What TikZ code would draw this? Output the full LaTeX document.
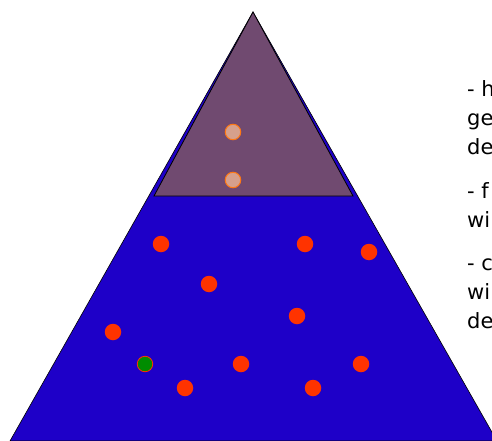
\documentclass[tikz,border=0pt]{standalone}
\usepackage{fontspec}
\setmainfont{DejaVu Sans}
\usepackage{tikz}
\usetikzlibrary{positioning}
\definecolor{pyrblue}{RGB}{30,0,200}
\definecolor{pyrtop}{RGB}{112,74,112}
\definecolor{dotred}{RGB}{255,51,0}
\definecolor{dotpale}{RGB}{214,160,140}
\definecolor{dotorange}{RGB}{255,120,20}
\definecolor{dotgreen}{RGB}{0,140,0}

\begin{document}
\begin{tikzpicture}[
  x=1pt, y=-1pt,
  dot/.style={circle,fill=dotred,inner sep=0pt,minimum size=16.5pt},
  topdot/.style={circle,draw=dotorange,fill=dotpale,line width=1pt,inner sep=0pt,minimum size=15.5pt},
  greendot/.style={circle,draw=dotred,fill=dotgreen,line width=0.8pt,inner sep=0pt,minimum size=15.5pt},
  txt/.style={anchor=base west,inner sep=0pt,font=\fontsize{21}{29}\selectfont}
]
  \useasboundingbox (0,0) rectangle (492,441);
  \clip (0,0) rectangle (492,441);

  % pyramid
  \draw[fill=pyrblue,line width=0.6pt] (253,12) -- (10,441) -- (497,441) -- cycle;
  \draw[fill=pyrtop,line width=0.8pt] (253,12) -- (154,196) -- (353,196) -- cycle;

  % top part
  \node[topdot] (t1) at (233,132) {};
  \node[topdot] (t2) at (233,180) {};

  % lower part
  \node[dot] (d1)  at (161,244) {};
  \node[dot] (d2)  at (305,244) {};
  \node[dot] (d3)  at (369,252) {};
  \node[dot] (d4)  at (209,284) {};
  \node[dot] (d5)  at (297,316) {};
  \node[dot] (d6)  at (113,332) {};
  \node[greendot] (g1) at (145,364) {};
  \node[dot] (d7)  at (241,364) {};
  \node[dot] (d8)  at (361,364) {};
  \node[dot] (d9)  at (185,388) {};
  \node[dot] (d10) at (313,388) {};

  % text at the right
  \node[txt] (h1) at (467,96)  {- h};
  \node[txt] (h2) at (467,125) {ge};
  \node[txt] (h3) at (467,154) {de};
  \node[txt] (f1) at (467,198) {- f};
  \node[txt] (f2) at (467,227) {wi};
  \node[txt] (c1) at (467,270) {- c};
  \node[txt] (c2) at (467,299) {wi};
  \node[txt] (c3) at (467,328) {de};
\end{tikzpicture}
\end{document}
